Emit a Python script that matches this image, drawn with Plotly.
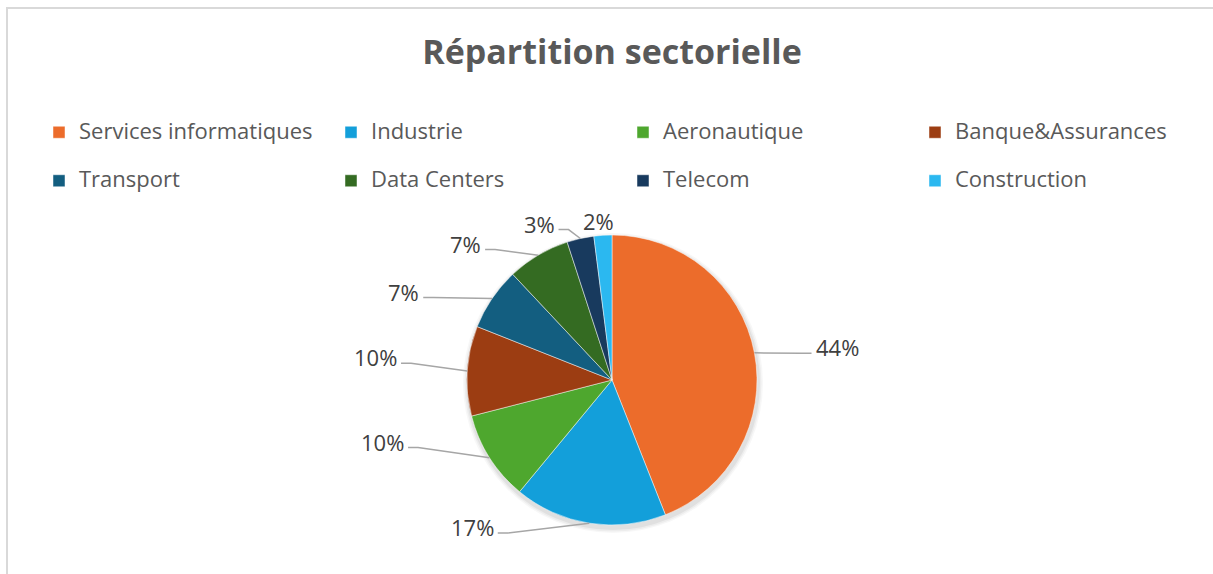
import math
import plotly.graph_objects as go

# ---------------- data ----------------
categories = ["Services informatiques", "Industrie", "Aeronautique", "Banque&Assurances",
              "Transport", "Data Centers", "Telecom", "Construction"]
values = [44, 17, 10, 10, 7, 7, 3, 2]
colors = ["#EC6C2B", "#139FDA", "#4EA72E", "#9C3D12", "#135E80", "#346B22", "#183A5E", "#2BB8F0"]
title_text = "Répartition sectorielle"

# ---------------- layout parameters ----------------
W, H = 1213, 574
CX, CY, R = 612, 380, 145          # pie centre / radius (px)
label_angle_shift = [2.5, 34.6, 17.4, 1.9, -11.2, -16.4, -12.4, -1.4]   # deg, best-fit nudges
label_radius = [1.57, 1.40, 1.64, 1.64, 1.56, 1.38, 1.19, 1.10]        # x R
FONT = "Open Sans"
TEXT_GREY = "#595959"
LABEL_GREY = "#404040"
LINE_GREY = "#A6A6A6"


def px(x):
    return x / W


def py(y):
    return 1 - y / H


total = sum(values)
legend_names = ["<span style='font-size:22px;baseline-shift:7px'>%s</span>" % c for c in categories]

fig = go.Figure(go.Pie(
    labels=legend_names,
    values=values,
    sort=False,
    direction="clockwise",
    rotation=0,
    marker=dict(colors=colors, line=dict(color="rgba(255,255,255,0.6)", width=0.8)),
    textinfo="none",
    hovertext=categories,
    hoverinfo="text+percent",
    domain=dict(x=[px(CX - R), px(CX + R)], y=[py(CY + R), py(CY - R)]),
))

shapes = []
# chart border
shapes.append(dict(type="rect", xref="paper", yref="paper",
                   x0=px(7), x1=px(W + 10), y0=py(H + 10), y1=py(8),
                   line=dict(color="#D9D9D9", width=2), fillcolor="rgba(0,0,0,0)", layer="below"))
# soft shadow under the pie
for dr, op in [(5, 0.03), (3.5, 0.04), (2, 0.05)]:
    shapes.append(dict(type="circle", xref="paper", yref="paper",
                       x0=px(CX + 1 - R - dr), x1=px(CX + 1 + R + dr),
                       y0=py(CY + 3 + R + dr), y1=py(CY + 3 - R - dr),
                       line=dict(width=0), fillcolor="rgba(0,0,0,%s)" % op, layer="below"))

annotations = []
cum = 0
for i, v in enumerate(values):
    mid = 360.0 * (cum + v / 2) / total
    cum += v
    txt = "%d%%" % round(100.0 * v / total)
    ang = math.radians(mid + label_angle_shift[i])
    k = label_radius[i]
    lx = CX + k * R * math.sin(ang)
    ly = CY - k * R * math.cos(ang)
    annotations.append(dict(x=px(lx), y=py(ly), xref="paper", yref="paper", text=txt,
                            showarrow=False, xanchor="center", yanchor="middle",
                            font=dict(family=FONT, size=22, color=LABEL_GREY)))
    # leader line
    ex = CX + R * math.sin(math.radians(mid))
    ey = CY - R * math.cos(math.radians(mid))
    hw = (12.6 * (len(txt) - 1) + 18.3) / 2
    if lx < CX:
        p = (lx + hw + 4, ly + 6)
        el = (p[0] + 10, p[1])
    else:
        p = (lx - hw - 4, ly + 6)
        el = (p[0] - 10, p[1])
    if math.hypot(p[0] - ex, p[1] - ey) > 20:
        path = "M %f %f L %f %f L %f %f" % (px(ex), py(ey), px(el[0]), py(el[1]), px(p[0]), py(p[1]))
        shapes.append(dict(type="path", xref="paper", yref="paper", path=path,
                           line=dict(color=LINE_GREY, width=1.5)))

fig.update_layout(
    width=W, height=H,
    margin=dict(l=0, r=0, t=0, b=0),
    paper_bgcolor="white",
    plot_bgcolor="white",
    title=dict(text=title_text, x=px(612), xanchor="center", y=py(52), yanchor="middle",
               font=dict(family=FONT, size=34, color=TEXT_GREY, weight="bold")),
    showlegend=True,
    legend=dict(orientation="h", x=px(39), xanchor="left", y=py(103), yanchor="top",
                entrywidth=247, entrywidthmode="pixels", traceorder="normal",
                font=dict(family=FONT, size=35, color=TEXT_GREY),
                bgcolor="rgba(0,0,0,0)"),
    shapes=shapes,
    annotations=annotations,
)

fig.write_html("out.html", config={"displayModeBar": False},
               post_script="document.body.style.margin='0';")
